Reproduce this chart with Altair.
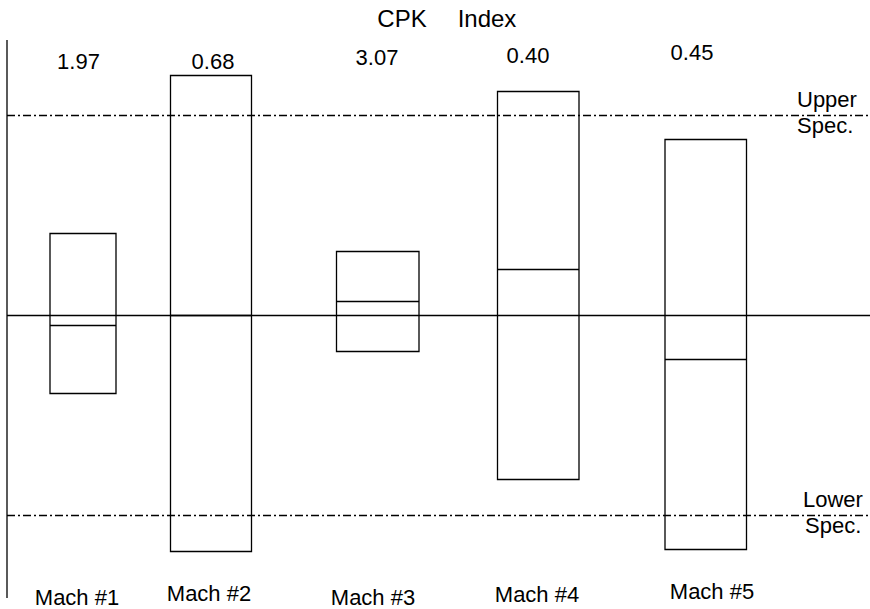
import altair as alt
import pandas as pd

# --- values -----------------------------------------------------------------
machines = ["Mach #1", "Mach #2", "Mach #3", "Mach #4", "Mach #5"]
cpk = [1.97, 0.68, 3.07, 0.40, 0.45]
# process spread (deviation from target), upper and lower ends of each box
spread_high = [4.1, 12.0, 3.2, 11.2, 8.8]
spread_low = [-3.9, -11.8, -1.8, -8.2, -11.7]
centre = [-0.5, 0.0, 0.7, 2.3, -2.2]

TARGET = 0
UPPER_SPEC = 10
LOWER_SPEC = -10

# --- layout -----------------------------------------------------------------
W, H = 870, 609
box_left = [50, 170.5, 336.5, 497.5, 665]
box_right = [116, 251.5, 419, 579, 746.5]
cpk_x = [78.5, 213, 377, 528, 692]
cpk_baseline = [69, 69, 65, 63, 60]
name_x = [77, 209, 373, 537, 712]
name_baseline = [605, 601, 605, 602, 599]

FONT = "Liberation Sans"
INK = "#000000"

xs = alt.Scale(domain=[0, W], nice=False, zero=False)
ys = alt.Scale(domain=[-14.675, 15.775], nice=False, zero=False)

df = pd.DataFrame({
    "machine": machines,
    "cpk": [f"{v:.2f}" for v in cpk],
    "high": spread_high,
    "low": spread_low,
    "centre": centre,
    "left": box_left,
    "right": box_right,
    "cpk_x": cpk_x,
    "cpk_y": cpk_baseline,
    "name_x": name_x,
    "name_y": name_baseline,
})

base = alt.Chart(df)

# vertical axis line on the left
axis_line = alt.Chart(pd.DataFrame({"k": [0]})).mark_rule(
    color=INK, strokeWidth=1.3
).encode(x=alt.value(7), y=alt.value(40), y2=alt.value(598))

# target line
target = alt.Chart(pd.DataFrame({"v": [TARGET]})).mark_rule(
    color=INK, strokeWidth=1.3
).encode(
    y=alt.Y("v:Q", scale=ys, axis=None),
    x=alt.value(7), x2=alt.value(W),
)

# specification limits, dash-dot
specs = alt.Chart(pd.DataFrame({"v": [UPPER_SPEC, LOWER_SPEC]})).mark_rule(
    color=INK, strokeWidth=1.3, strokeDash=[8, 3, 2, 3]
).encode(
    y=alt.Y("v:Q", scale=ys, axis=None),
    x=alt.value(7), x2=alt.value(W),
)

boxes = base.mark_rect(
    fillOpacity=0, stroke=INK, strokeWidth=1.3
).encode(
    x=alt.X("left:Q", scale=xs, axis=None),
    x2="right:Q",
    y=alt.Y("low:Q", scale=ys, axis=None),
    y2="high:Q",
)

centres = base.mark_rule(color=INK, strokeWidth=1.3).encode(
    x=alt.X("left:Q", scale=xs, axis=None),
    x2="right:Q",
    y=alt.Y("centre:Q", scale=ys, axis=None),
)

cpk_labels = base.mark_text(
    font=FONT, fontSize=22, color=INK, align="center", baseline="alphabetic"
).encode(
    x=alt.X("cpk_x:Q", scale=xs, axis=None),
    y=alt.Y("cpk_y:Q", scale=None),
    text="cpk:N",
)

name_labels = base.mark_text(
    font=FONT, fontSize=22, color=INK, align="center", baseline="alphabetic"
).encode(
    x=alt.X("name_x:Q", scale=xs, axis=None),
    y=alt.Y("name_y:Q", scale=None),
    text="machine:N",
)

notes = pd.DataFrame({
    "text": ["CPK", "Index", "Upper", "Spec.", "Lower", "Spec."],
    "x": [402, 487, 797, 797, 803, 805],
    "y": [27, 27, 107, 133, 507, 533],
    "align": ["center", "center", "left", "left", "left", "left"],
    "size": [24, 24, 22, 22, 22, 22],
})

def note_layer(sub):
    return alt.Chart(sub).mark_text(
        font=FONT, color=INK, baseline="alphabetic",
        align=sub["align"].iloc[0], fontSize=int(sub["size"].iloc[0]),
    ).encode(
        x=alt.X("x:Q", scale=xs, axis=None),
        y=alt.Y("y:Q", scale=None),
        text="text:N",
    )

title_text = note_layer(notes.iloc[:2])
spec_text = note_layer(notes.iloc[2:])

chart = alt.layer(
    axis_line, specs, target, boxes, centres,
    cpk_labels, name_labels, title_text, spec_text,
).properties(
    width=W, height=H,
    autosize=alt.AutoSizeParams(type="none"),
    padding=0,
    background="white",
).configure_view(stroke=None)

chart.save("out.html", embed_options={"renderer": "svg", "actions": False})
